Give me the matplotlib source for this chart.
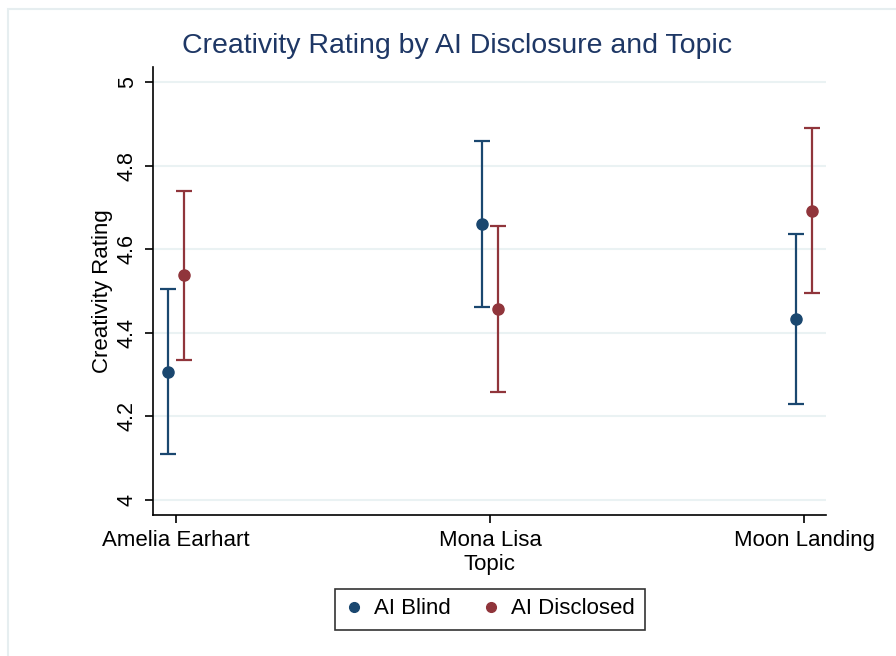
import matplotlib.pyplot as plt
from matplotlib.patches import Rectangle
from matplotlib.lines import Line2D

plt.rcParams['font.family'] = ['Liberation Sans', 'DejaVu Sans']

# Estimated means and 95% CIs
topics = ["Amelia Earhart", "Mona Lisa", "Moon Landing"]
blind_mean = [4.306, 4.660, 4.433]
blind_lo = [4.110, 4.462, 4.230]
blind_hi = [4.505, 4.859, 4.636]
disc_mean = [4.538, 4.457, 4.691]
disc_lo = [4.335, 4.258, 4.495]
disc_hi = [4.739, 4.656, 4.890]

blue = "#1a476f"
red = "#90353b"

fig = plt.figure(figsize=(8.96, 6.56), dpi=100)
ax = fig.add_axes([153/896, 1-515/656, (826-153)/896, (515-67)/656])

# light outer border (Stata graph region)
fig.patches.append(Rectangle((8/896, -0.05), 1.2, 1-9/656+0.05, transform=fig.transFigure,
                             fill=False, edgecolor="#e6eef0", linewidth=1.5))

x = [1, 2, 3]
off = 0.025

def draw(xs, mean, lo, hi, col):
    err = [[m - l for m, l in zip(mean, lo)], [h - m for m, h in zip(mean, hi)]]
    ax.errorbar(xs, mean, yerr=err, fmt="o", color=col, ecolor=col, markersize=8,
                elinewidth=1.6, capsize=6, capthick=1.6)

draw([i - off for i in x], blind_mean, blind_lo, blind_hi, blue)
draw([i + off for i in x], disc_mean, disc_lo, disc_hi, red)

ax.set_xlim(0.927, 3.07)
ax.set_ylim(3.964, 5.036)
ax.set_xticks(x)
ax.set_xticklabels(topics, fontsize=16)
yt = [4, 4.2, 4.4, 4.6, 4.8, 5]
ax.set_yticks(yt)
ax.set_yticklabels(["4", "4.2", "4.4", "4.6", "4.8", "5"], fontsize=15.5,
                   rotation=90, va="center")
ax.grid(axis="y", color="#eaf2f3", linewidth=1.5)
ax.set_axisbelow(True)
for s in ["top", "right"]:
    ax.spines[s].set_visible(False)
ax.spines["left"].set_linewidth(1.2)
ax.spines["bottom"].set_linewidth(1.2)
ax.tick_params(length=6, width=1.2, pad=5)

ax.set_xlabel("Topic", fontsize=16, labelpad=2)
ax.set_ylabel("Creativity Rating", fontsize=16, labelpad=3)
fig.text(457/896, 1-46/656, "Creativity Rating by AI Disclosure and Topic",
         ha="center", va="center", fontsize=20.5, color="#1e3765")

handles = [Line2D([], [], marker="o", linestyle="none", color=blue, markersize=7),
           Line2D([], [], marker="o", linestyle="none", color=red, markersize=7)]
leg = fig.legend(handles, ["AI Blind", "AI Disclosed"], loc="center",
                 bbox_to_anchor=(490/896, 1-609/656), ncol=2, fontsize=16,
                 frameon=True, fancybox=False, edgecolor="black", handlelength=0.8,
                 handletextpad=0.5, columnspacing=1.4, borderpad=0.45)
leg.get_frame().set_linewidth(1.2)

fig.savefig("out.png", dpi=100)
